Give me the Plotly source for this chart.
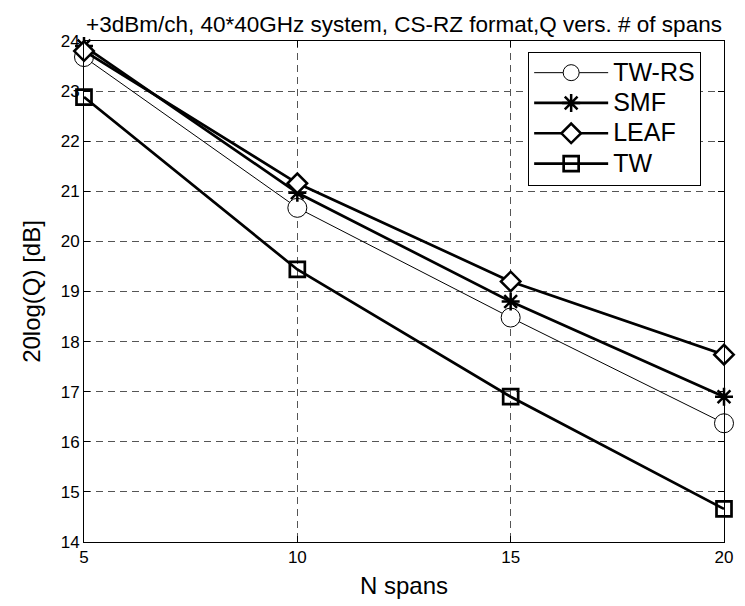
import plotly.graph_objects as go

n_spans = [5, 10, 15, 20]
tw_rs = [23.68, 20.67, 18.48, 16.37]
smf = [23.9, 20.97, 18.8, 16.9]
leaf = [23.8, 21.16, 19.2, 17.74]
tw = [22.88, 19.44, 16.9, 14.66]
series_names = ["TW-RS", "SMF", "LEAF", "TW"]

x_ticks = [5, 10, 15, 20]
y_ticks = [14, 15, 16, 17, 18, 19, 20, 21, 22, 23, 24]

FONT = "Liberation Sans, Arial, sans-serif"


def lg(name):
    return '<span style="font-size:25px">' + name + '</span>'


fig = go.Figure()
fig.add_trace(go.Scatter(
    x=n_spans, y=tw_rs, name=lg(series_names[0]), mode="lines+markers",
    cliponaxis=False,
    line=dict(color="black", width=1),
    marker=dict(symbol="circle", size=19, color="white",
                line=dict(color="black", width=1))))
fig.add_trace(go.Scatter(
    x=n_spans, y=smf, name=lg(series_names[1]), mode="lines+markers",
    cliponaxis=False,
    line=dict(color="black", width=2.7),
    marker=dict(symbol="asterisk-open", size=15, color="black",
                line=dict(color="black", width=2.5))))
fig.add_trace(go.Scatter(
    x=n_spans, y=leaf, name=lg(series_names[2]), mode="lines+markers",
    cliponaxis=False,
    line=dict(color="black", width=2.7),
    marker=dict(symbol="diamond", size=15, color="white",
                line=dict(color="black", width=2.5))))
fig.add_trace(go.Scatter(
    x=n_spans, y=tw, name=lg(series_names[3]), mode="lines+markers",
    cliponaxis=False,
    line=dict(color="black", width=2.7),
    marker=dict(symbol="square-open", size=15, color="black",
                line=dict(color="black", width=2.7))))

fig.update_layout(
    width=745, height=606,
    margin=dict(l=84, r=20, t=41, b=59),
    paper_bgcolor="white", plot_bgcolor="white",
    font=dict(family=FONT, color="black", size=17),
    title=dict(text="+3dBm/ch, 40*40GHz system, CS-RZ format,Q vers. # of spans",
               x=0.5, xref="paper", xanchor="center",
               y=1, yref="paper", yanchor="bottom", pad=dict(b=9),
               font=dict(size=22.5, family=FONT, color="black")),
    showlegend=True,
    legend=dict(x=0.694, y=0.979, xanchor="left", yanchor="top",
                bgcolor="white", bordercolor="black", borderwidth=1,
                font=dict(size=21, family=FONT, color="black"),
                itemwidth=74, tracegroupgap=0),
)
fig.update_xaxes(
    range=[5, 20], tickvals=x_ticks, ticktext=[str(v) for v in x_ticks],
    showline=True, linecolor="black", linewidth=1, mirror="ticks",
    ticks="inside", ticklen=6, tickcolor="black",
    showgrid=True, gridcolor="#555555", gridwidth=1, griddash="7px,5px",
    zeroline=False, tickfont=dict(size=17, family=FONT, color="black"),
    title=dict(text="N spans", font=dict(size=24, family=FONT, color="black"), standoff=10))
fig.update_yaxes(
    range=[14, 24], tickvals=y_ticks, ticktext=[str(v) for v in y_ticks],
    showline=True, linecolor="black", linewidth=1, mirror="ticks",
    ticks="inside", ticklen=6, tickcolor="black",
    showgrid=True, gridcolor="#555555", gridwidth=1, griddash="7px,5px",
    zeroline=False, tickfont=dict(size=17, family=FONT, color="black"),
    title=dict(text="20log(Q) [dB]", font=dict(size=24, family=FONT, color="black"), standoff=13))

fig.write_html("out.html")
